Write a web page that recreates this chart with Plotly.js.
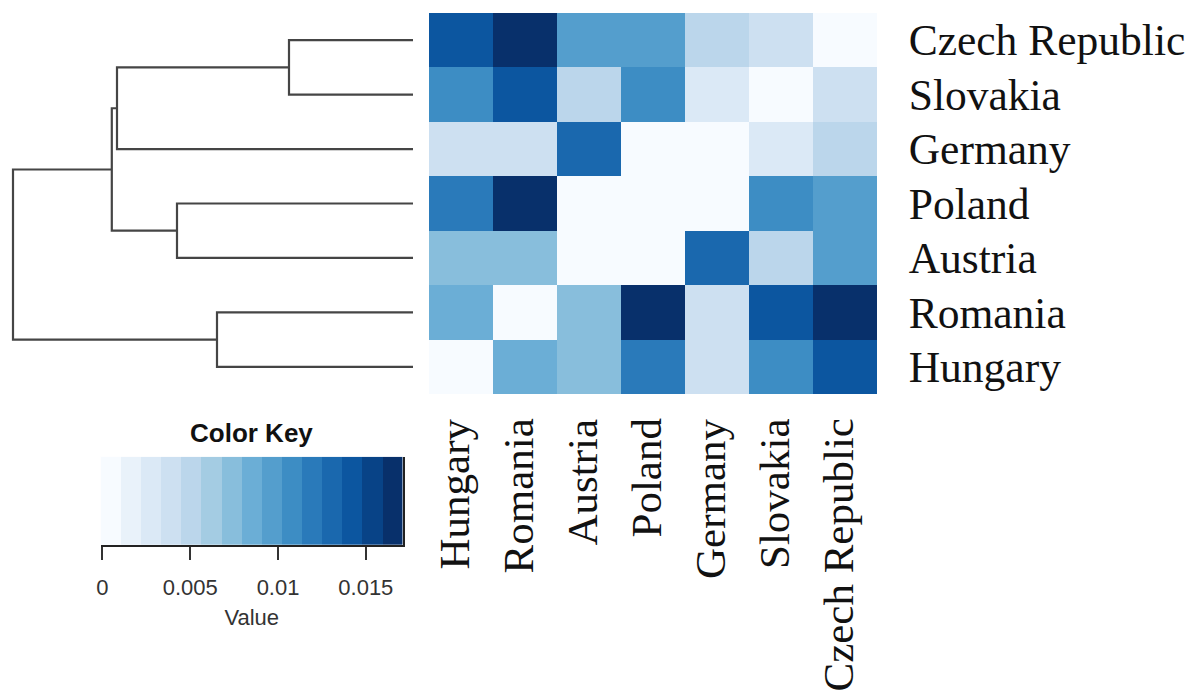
<!DOCTYPE html>
<html>
<head>
<meta charset="utf-8">
<script src="https://cdn.plot.ly/plotly-3.0.1.min.js"></script>
<style>
  html, body { margin: 0; padding: 0; background: #ffffff; }
  #chart { width: 1196px; height: 694px; }
</style>
</head>
<body>
<div id="chart"></div>
<script>
// Row order (top to bottom) follows the dendrogram leaves
const rowLabels = ["Czech Republic", "Slovakia", "Germany", "Poland", "Austria", "Romania", "Hungary"];
// Column order (left to right)
const colLabels = ["Hungary", "Romania", "Austria", "Poland", "Germany", "Slovakia", "Czech Republic"];

// Cell values, one array per row
const czechRepublic = [0.0142, 0.0165, 0.0097, 0.0097, 0.0051, 0.0039, 0.0000];
const slovakia      = [0.0108, 0.0142, 0.0051, 0.0108, 0.0028, 0.0000, 0.0039];
const germany       = [0.0039, 0.0039, 0.0131, 0.0000, 0.0000, 0.0028, 0.0051];
const poland        = [0.0119, 0.0165, 0.0000, 0.0000, 0.0000, 0.0108, 0.0097];
const austria       = [0.0074, 0.0074, 0.0000, 0.0000, 0.0131, 0.0051, 0.0097];
const romania       = [0.0085, 0.0000, 0.0074, 0.0165, 0.0039, 0.0142, 0.0165];
const hungary       = [0.0000, 0.0085, 0.0074, 0.0119, 0.0039, 0.0108, 0.0142];

// Row dendrogram: leaves are row indices, clusters are numbered from 7 upward
// [left child, right child, merge height]
const dendroMerges = [
  [0, 1, 0.31],   // 7: Czech Republic + Slovakia
  [3, 4, 0.59],   // 8: Poland + Austria
  [5, 6, 0.49],   // 9: Romania + Hungary
  [7, 2, 0.74],   // 10: (CZ, SK) + Germany
  [10, 8, 0.753], // 11: + (PL, AT)
  [11, 9, 1.0]    // 12: root
];

// Colour key scale
const keyMin = -0.0001;
const keyMax = 0.0171;
const keyTickVals = [0, 0.005, 0.01, 0.015];
const keyTickText = ["0", "0.005", "0.01", "0.015"];

// 15-step Blues palette
const blues = [
  "#f7fbff", "#e9f2fa", "#dbe9f6", "#cde0f1", "#bbd6eb",
  "#a4cce3", "#88bedc", "#6baed6", "#549ecd", "#3d8dc4",
  "#2a7aba", "#1a68ae", "#0c56a0", "#084387", "#08306b"
];

const zRows = [czechRepublic, slovakia, germany, poland, austria, romania, hungary];
const nBins = blues.length;

// stepped colourscale so every cell takes one palette band
const stepScale = [];
blues.forEach((c, k) => {
  stepScale.push([k / nBins, c]);
  stepScale.push([(k + 1) / nBins, c]);
});

// --- dendrogram segments (computed from merge table) ---
const nodePos = {};
rowLabels.forEach((_, i) => { nodePos[i] = { y: i, h: 0 }; });
const dx = [], dy = [];
dendroMerges.forEach((m, k) => {
  const a = nodePos[m[0]], b = nodePos[m[1]], h = m[2];
  dx.push(a.h, h, h, b.h, null);
  dy.push(a.y, a.y, b.y, b.y, null);
  nodePos[rowLabels.length + k] = { y: (a.y + b.y) / 2, h: h };
});

// --- colour key bands ---
const bw = (keyMax - keyMin) / nBins;
const keyX = [];
for (let k = 0; k <= nBins; k++) keyX.push(keyMin + k * bw);
const keyRow = [];
for (let k = 0; k < nBins; k++) keyRow.push(keyMin + (k + 0.5) * bw);
const keyZ = [keyRow];

const W = 1196, H = 694;
const px = v => v / W;
const py = v => 1 - v / H;

const serif = "Liberation Serif, Times New Roman, serif";
const sans = "Liberation Sans, Arial, sans-serif";

const traces = [
  {
    type: "heatmap",
    z: zRows,
    x: colLabels.map((_, i) => i),
    y: rowLabels.map((_, i) => i),
    zmin: keyMin, zmax: keyMax,
    colorscale: stepScale,
    showscale: false,
    xaxis: "x", yaxis: "y",
    hoverinfo: "skip"
  },
  {
    type: "scatter", mode: "lines",
    x: dx, y: dy,
    xaxis: "x3", yaxis: "y",
    line: { color: "#454545", width: 2.2 },
    hoverinfo: "skip", showlegend: false
  },
  {
    type: "heatmap",
    z: keyZ, x: keyX, y: [0, 1],
    zmin: keyMin, zmax: keyMax,
    colorscale: stepScale,
    showscale: false,
    xaxis: "x2", yaxis: "y2",
    hoverinfo: "skip"
  }
];

// column labels, rotated, hanging below the grid
const colAnnotations = colLabels.map((lab, i) => ({
  text: lab,
  xref: "x", yref: "paper",
  x: i, y: py(394),
  xanchor: "center", yanchor: "top",
  xshift: -7, yshift: -23,
  textangle: -90,
  showarrow: false,
  font: { family: serif, size: 43, color: "#111" }
}));

const layout = {
  width: W, height: H,
  margin: { l: 0, r: 0, t: 0, b: 0 },
  paper_bgcolor: "#ffffff",
  plot_bgcolor: "rgba(0,0,0,0)",
  showlegend: false,
  xaxis: {
    domain: [px(429), px(877)],
    range: [-0.5, 6.5],
    showticklabels: false, ticks: "",
    showgrid: false, zeroline: false, showline: false,
    automargin: false, fixedrange: true
  },
  yaxis: {
    domain: [py(394), py(13)],
    range: [6.5, -0.5],
    side: "right",
    tickmode: "array",
    tickvals: rowLabels.map((_, i) => i),
    ticktext: rowLabels,
    ticks: "outside", ticklen: 22, tickcolor: "rgba(0,0,0,0)",
    tickfont: { family: serif, size: 43.5, color: "#111" },
    showgrid: false, zeroline: false, showline: false,
    automargin: false, fixedrange: true
  },
  xaxis3: {
    domain: [0, px(429)],
    range: [413 / 400, -16 / 400],
    anchor: "y",
    visible: false, fixedrange: true
  },
  xaxis2: {
    domain: [px(100.7), px(402.7)],
    range: [keyMin, keyMax],
    anchor: "y2",
    tickmode: "array",
    tickvals: keyTickVals,
    ticktext: keyTickText,
    ticks: "outside", ticklen: 13, tickwidth: 2, tickcolor: "#333",
    ticklabelstandoff: 9,
    tickfont: { family: sans, size: 22, color: "#333" },
    showline: true, linecolor: "#222", linewidth: 2,
    showgrid: false, zeroline: false,
    title: { text: "Value", font: { family: sans, size: 22, color: "#333" }, standoff: 10 },
    automargin: false, fixedrange: true
  },
  yaxis2: {
    domain: [py(545), py(456.7)],
    range: [0, 1],
    anchor: "x2",
    side: "right",
    showline: true, linecolor: "#222", linewidth: 2,
    showticklabels: false, ticks: "",
    showgrid: false, zeroline: false,
    automargin: false, fixedrange: true
  },
  annotations: [
    {
      text: "<b>Color Key</b>",
      xref: "paper", yref: "paper",
      x: px(251.7), y: py(433),
      xanchor: "center", yanchor: "middle",
      showarrow: false,
      font: { family: sans, size: 26, color: "#111" }
    }
  ].concat(colAnnotations)
};

Plotly.newPlot("chart", traces, layout, { staticPlot: true, displayModeBar: false });
</script>
</body>
</html>
